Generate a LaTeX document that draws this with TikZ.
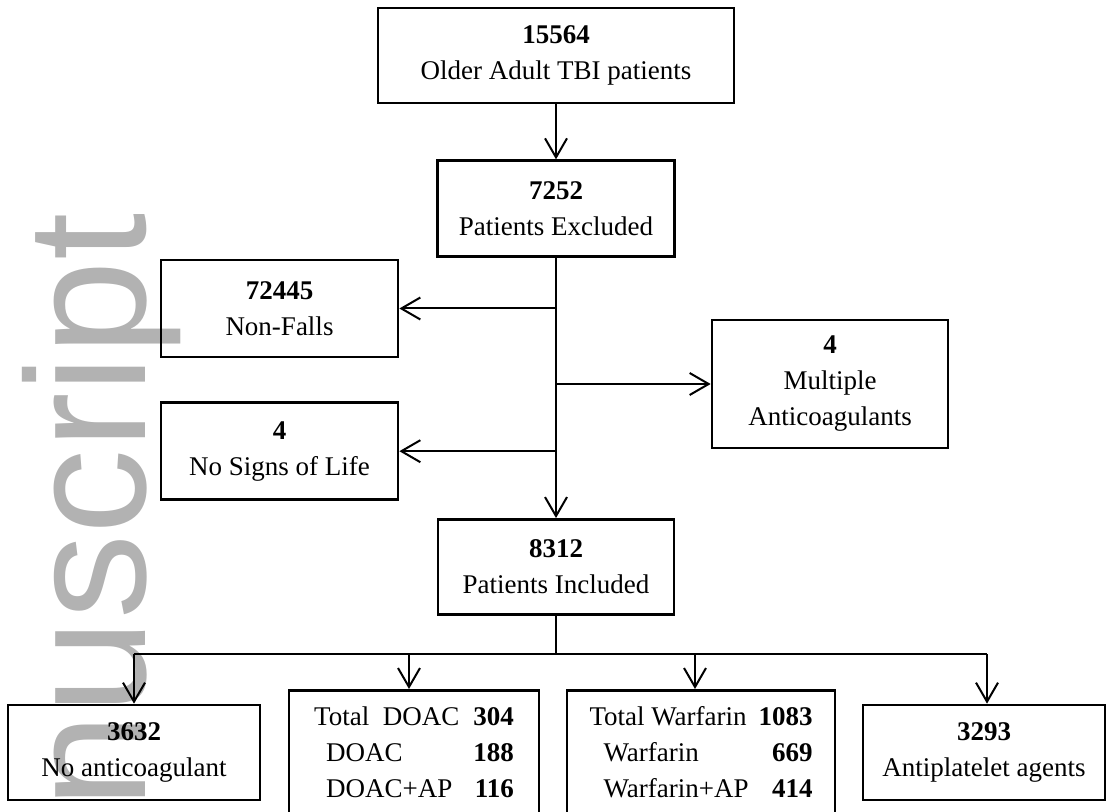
\documentclass[tikz,border=0pt]{standalone}
\usepackage{fontspec}
\setmainfont{Liberation Serif}
\newfontfamily\wmfont{Liberation Sans}
\usetikzlibrary{positioning,arrows.meta}

\tikzset{
  boxbase/.style={draw, line width=1.35pt, font=\fontsize{13.5}{18}\selectfont},
  flowbox/.style={boxbase, align=center, inner sep=2pt},
  tabbox/.style={boxbase, anchor=north, inner ysep=0pt, text height=17.5pt, text depth=60pt},
  conn/.style={line width=1pt},
  arr/.style={conn, -{Straight Barb[length=9.5pt,width=11pt]}},
  wmark/.style={text=black!30, inner sep=0pt, font=\wmfont\fontsize{85}{85}\selectfont}
}

\begin{document}
\begin{tikzpicture}[x=0.5pt, y=-0.5pt]
  \useasboundingbox (0,0) rectangle (1107,812);

  % watermark behind everything
  \node[wmark, rotate=90, anchor=base east] (wm) at (145,213) {nuscript};

  % main column
  \node[flowbox, minimum width=178pt, minimum height=47.5pt] (top) at (556,55.5)
    {\textbf{15564}\\Older Adult TBI patients};
  \node[flowbox, minimum width=118.5pt, minimum height=48pt, below=27.5pt of top] (excl)
    {\textbf{7252}\\Patients Excluded};
  \node[flowbox, minimum width=118pt, minimum height=47.5pt, below=130pt of excl] (incl)
    {\textbf{8312}\\Patients Included};

  % exclusions
  \node[flowbox, minimum width=118.5pt, minimum height=48.5pt] (nonfalls) at (279.5,308.5)
    {\textbf{72445}\\Non-Falls};
  \node[flowbox, minimum width=118.5pt, minimum height=48.5pt, below=21.5pt of nonfalls] (nosigns)
    {\textbf{4}\\No Signs of Life};
  \node[flowbox, minimum width=118pt, minimum height=64pt] (multi) at (830,384)
    {\textbf{4}\\Multiple\\Anticoagulants};

  % groups
  \node[flowbox, minimum width=126pt, minimum height=47.5pt] (noanti) at (134,752.5)
    {\textbf{3632}\\No anticoagulant};
  \node[tabbox, minimum width=125pt] (doac) at (414,689)
    {\begin{tabular}[t]{@{}l@{\hspace{7pt}}r@{}}
      Total\ \ DOAC & \textbf{304}\hspace{4pt}\\
      \hspace{6pt}DOAC & \textbf{188}\\
      \hspace{6pt}DOAC+AP & \textbf{116}
    \end{tabular}};
  \node[tabbox, minimum width=134pt] (warf) at (701,689)
    {\begin{tabular}[t]{@{}l@{\hspace{5pt}}r@{}}
      Total Warfarin & \textbf{1083}\\
      \hspace{7pt}Warfarin & \textbf{669}\\
      \hspace{7pt}Warfarin+AP & \textbf{414}
    \end{tabular}};
  \node[flowbox, minimum width=121pt, minimum height=47.5pt] (antipl) at (984,752.5)
    {\textbf{3293}\\Antiplatelet agents};

  % connectors
  \draw[arr] (top) -- (excl);
  \draw[arr] (excl) -- (incl);
  \draw[arr] (excl.south |- nonfalls.east) -- (nonfalls.east);
  \draw[arr] (excl.south |- nosigns.east) -- (nosigns.east);
  \draw[arr] (excl.south |- multi.west) -- (multi.west);

  \draw[conn] (incl.south) -- ++(0,38) coordinate (bus);
  \draw[conn] (noanti.north |- bus) -- ([xshift=1.5pt]antipl.north |- bus);
  \foreach \g/\s in {noanti/0pt,doac/-2.5pt,warf/-3pt,antipl/1.5pt}
    \draw[arr] ([xshift=\s]\g.north |- bus) -- ([xshift=\s]\g.north);
\end{tikzpicture}
\end{document}
